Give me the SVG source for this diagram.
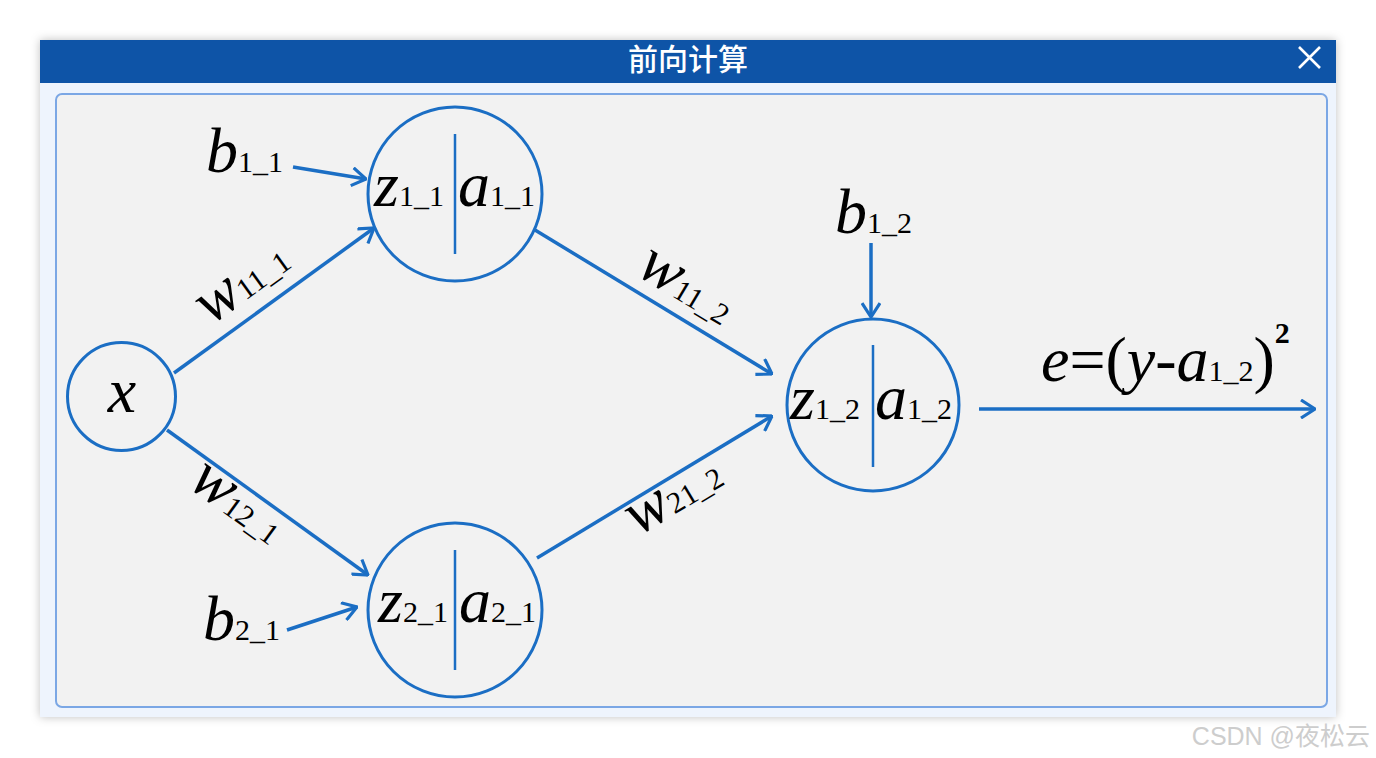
<svg xmlns="http://www.w3.org/2000/svg" width="1376" height="758" viewBox="0 0 1376 758">
<style>
.ln{stroke:#1B6EC4;stroke-width:3.5;fill:none}
.cir{stroke:#1B6EC4;stroke-width:3;fill:none}
.div{stroke:#1B6EC4;stroke-width:2.5}
.v{font-family:"Liberation Serif","Times New Roman",serif;font-style:italic;font-size:64px;fill:#000}
.w{font-family:"Liberation Serif","Times New Roman",serif;font-style:italic;font-size:64px;fill:#000}
.s{font-style:normal;font-size:30px}
.up{font-style:normal}
</style>
<defs>
<marker id="ah" viewBox="0 0 16 20" refX="15" refY="10" markerWidth="16" markerHeight="20" markerUnits="userSpaceOnUse" orient="auto">
<path d="M1,1 L15,10 L1,19" fill="none" stroke="#1B6EC4" stroke-width="3.2"/>
</marker>
<filter id="sh" x="-5%" y="-10%" width="110%" height="120%">
<feDropShadow dx="0" dy="0" stdDeviation="5" flood-color="#000" flood-opacity="0.25"/>
</filter>
</defs>
<rect width="1376" height="758" fill="#FFFFFF"/>
<g id="window">
<rect x="40" y="40" width="1296" height="677" fill="#EEF4FD" filter="url(#sh)"/>
<rect x="40" y="40" width="1296" height="43" fill="#0E54A7"/>
<text x="688" y="70" text-anchor="middle" font-family="'Noto Sans CJK SC',sans-serif" font-size="30" font-weight="500" fill="#FFFFFF">前向计算</text>
<path d="M1299,47 L1320,68 M1320,47 L1299,68" stroke="#FFFFFF" stroke-width="2.6"/>
<rect x="56" y="94" width="1271" height="613" rx="6" fill="#F2F2F2" stroke="#7BA7E5" stroke-width="2"/>
</g>
<g id="connectors">
<line class="ln" x1="174" y1="373" x2="374" y2="228" marker-end="url(#ah)"/>
<line class="ln" x1="167" y1="430" x2="368" y2="575" marker-end="url(#ah)"/>
<line class="ln" x1="535" y1="230" x2="772" y2="374" marker-end="url(#ah)"/>
<line class="ln" x1="537" y1="558" x2="772" y2="416" marker-end="url(#ah)"/>
<line class="ln" x1="293" y1="167" x2="366" y2="179" marker-end="url(#ah)"/>
<line class="ln" x1="287" y1="630" x2="357" y2="607" marker-end="url(#ah)"/>
<line class="ln" x1="871" y1="243" x2="871" y2="317" marker-end="url(#ah)"/>
<line class="ln" x1="979" y1="409" x2="1315" y2="409" marker-end="url(#ah)"/>
<text class="w" text-anchor="middle" transform="translate(252,296) rotate(-36)">w<tspan class="s">11_1</tspan></text>
<text class="w" text-anchor="middle" transform="translate(228,516) rotate(36)">w<tspan class="s">12_1</tspan></text>
<text class="w" text-anchor="middle" transform="translate(678,300) rotate(31)">w<tspan class="s">11_2</tspan></text>
<text class="w" text-anchor="middle" transform="translate(682,510) rotate(-31)">w<tspan class="s">21_2</tspan></text>
</g>
<g id="node-x">
<circle class="cir" cx="121.5" cy="396.5" r="54"/>
<text class="v" x="122" y="412" text-anchor="middle">x</text>
</g>
<g id="node-b11">
<text class="v" x="206" y="172">b<tspan class="s">1_1</tspan></text>
</g>
<g id="node-b21">
<text class="v" x="203" y="640">b<tspan class="s">2_1</tspan></text>
</g>
<g id="node-b12">
<text class="v" x="835" y="233">b<tspan class="s">1_2</tspan></text>
</g>
<g id="node-11">
<circle class="cir" cx="455" cy="194" r="87"/>
<line class="div" x1="455" y1="134" x2="455" y2="254"/>
<text class="v" x="374" y="206">z<tspan class="s">1_1</tspan></text>
<text class="v" x="458" y="206">a<tspan class="s">1_1</tspan></text>
</g>
<g id="node-21">
<circle class="cir" cx="455" cy="610" r="87"/>
<line class="div" x1="455" y1="550" x2="455" y2="670"/>
<text class="v" x="378" y="622">z<tspan class="s">2_1</tspan></text>
<text class="v" x="459" y="622">a<tspan class="s">2_1</tspan></text>
</g>
<g id="node-12">
<circle class="cir" cx="873" cy="405" r="86"/>
<line class="div" x1="873" y1="345" x2="873" y2="467"/>
<text class="v" x="790" y="419">z<tspan class="s">1_2</tspan></text>
<text class="v" x="875" y="419">a<tspan class="s">1_2</tspan></text>
</g>
<g id="label-e">
<text class="v" x="1041" y="381" font-size="70">e<tspan class="up">=(</tspan>y<tspan class="up">-</tspan>a<tspan class="s">1_2</tspan><tspan class="up">)</tspan><tspan class="s" dy="-38" font-weight="bold">2</tspan></text>
</g>
<text x="1370" y="745" text-anchor="end" font-family="'Liberation Sans','Noto Sans CJK SC',sans-serif" font-size="25" fill="#CDCDCD">CSDN @夜松云</text>
</svg>
